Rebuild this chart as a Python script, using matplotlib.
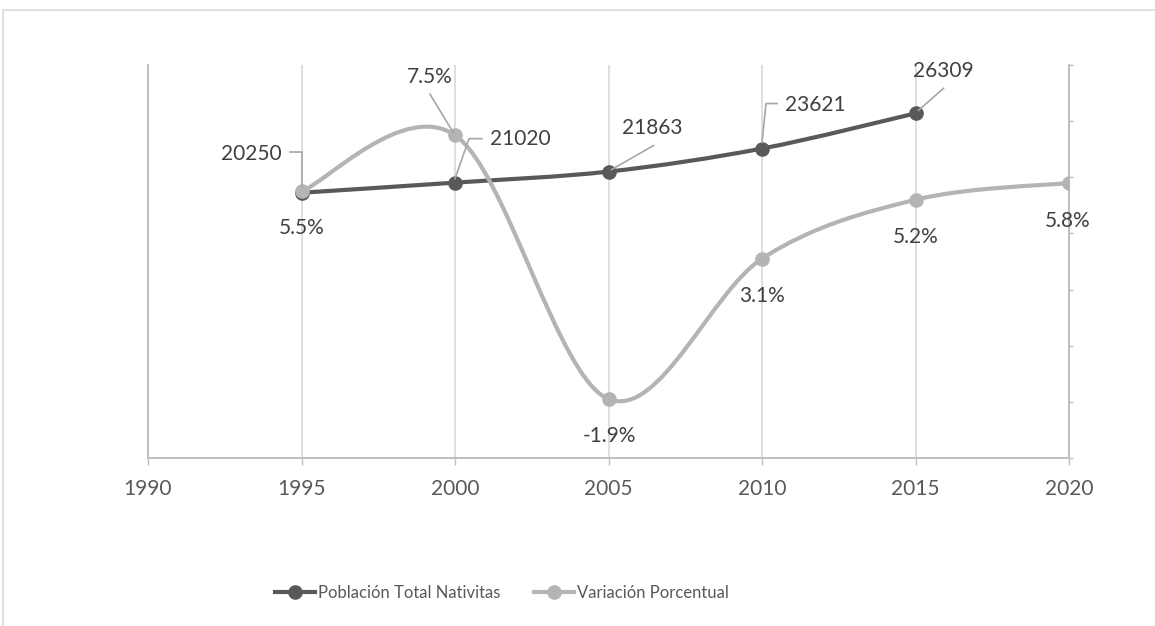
import numpy as np
import matplotlib
matplotlib.use("Agg")
import matplotlib.pyplot as plt
from matplotlib.path import Path
from matplotlib.patches import PathPatch, Rectangle
from matplotlib.lines import Line2D
from matplotlib.transforms import IdentityTransform

# datos
years_pop = [1995, 2000, 2005, 2010, 2015]
poblacion = [20250, 21020, 21863, 23621, 26309]
years_var = [1995, 2000, 2005, 2010, 2015, 2020]
variacion = [5.5, 7.5, -1.9, 3.1, 5.2, 5.8]
var_labels = ["5.5%", "7.5%", "-1.9%", "3.1%", "5.2%", "5.8%"]
x_ticks = [1990, 1995, 2000, 2005, 2010, 2015, 2020]
series_names = ["Población Total Nativitas", "Variación Porcentual"]

DARK = "#595959"
LIGHT = "#B4B4B4"
AXIS = "#BFBFBF"
GRID = "#D9D9D9"
TXT = "#404040"

plt.rcParams["font.family"] = ["Lato", "DejaVu Sans"]
FS = 15


def smooth_path(xs, ys):
    # curva suavizada tipo Excel (Catmull-Rom -> Bezier)
    pts = np.column_stack([xs, ys]).astype(float)
    n = len(pts)
    verts = [pts[0]]
    codes = [Path.MOVETO]
    for i in range(n - 1):
        p0 = pts[max(i - 1, 0)]
        p1 = pts[i]
        p2 = pts[i + 1]
        p3 = pts[min(i + 2, n - 1)]
        c1 = p1 + (p2 - p0) / 6.0
        c2 = p2 - (p3 - p1) / 6.0
        verts += [c1, c2, p2]
        codes += [Path.CURVE4] * 3
    return Path(verts, codes)


fig = plt.figure(figsize=(11.55, 6.26), dpi=100)
ax = fig.add_axes([148 / 1155, 1 - 458 / 626, (1069 - 148) / 1155, (458 - 65) / 626])
ax2 = ax.twinx()

ax.set_xlim(1990, 2020)
ax.set_ylim(0, 30000)
ax2.set_ylim(-4, 10)

ax.set_xticks(x_ticks)
ax.set_xticklabels([str(t) for t in x_ticks], fontsize=FS, color=DARK)
ax.tick_params(axis="x", length=5, width=1, color=AXIS, pad=10)
ax.set_yticks([])
ax.grid(axis="x", color=GRID, lw=1.2)
ax.set_axisbelow(True)

ax2.set_yticks(np.arange(-4, 11, 2))
ax2.set_yticklabels([])
ax2.tick_params(axis="y", length=3, width=1, color=AXIS)

for a in (ax, ax2):
    a.spines["top"].set_visible(False)
    for s in ("left", "right", "bottom"):
        a.spines[s].set_color(AXIS)
        a.spines[s].set_linewidth(1.2)

# series
ax.add_patch(PathPatch(smooth_path(years_pop, poblacion), fill=False,
                       edgecolor=DARK, lw=3, capstyle="round", zorder=3))
ax.plot(years_pop, poblacion, "o", color=DARK, ms=9.5, zorder=4)
ax2.add_patch(PathPatch(smooth_path(years_var, variacion), fill=False,
                        edgecolor=LIGHT, lw=3, capstyle="round", zorder=3))
ax2.plot(years_var, variacion, "o", color=LIGHT, ms=9.5, zorder=4)

# posiciones de etiquetas (pixeles, y hacia abajo)
pop_text_off = [(-50, -39), (65, -44), (44, -44), (53, -44), (28, -42)]
pop_leaders = [
    [(-12, -41), (0, -41), (0, -6)],
    [(27, -44), (14, -44), (0, -4)],
    [(45, -26), (3, -2)],
    [(15, -45), (4, -45), (0, -6)],
    [(28, -25), (3, -3)],
]
var_text_off = [(0, 37), (-25, -58), (1, 37), (0, 37), (0, 37), (-1, 38)]
var_leaders = [None, [(-25, -41), (-2, -3)], None, None, None, None]


def draw_labels(a, xs, ys, labels, offs, leaders):
    for x, y, lab, off, ld in zip(xs, ys, labels, offs, leaders):
        a.annotate(lab, xy=(x, y), xytext=(off[0], -off[1]),
                   textcoords="offset pixels", ha="center", va="center",
                   fontsize=FS, color=TXT, zorder=6)
        if ld:
            px, py = a.transData.transform((x, y))
            lx = [px + d[0] for d in ld]
            ly = [py - d[1] for d in ld]
            fig.add_artist(Line2D(lx, ly, transform=IdentityTransform(),
                                  color="#A6A6A6", lw=1.2, zorder=5))


draw_labels(ax, years_pop, poblacion, [str(v) for v in poblacion],
            pop_text_off, pop_leaders)
draw_labels(ax2, years_var, variacion, var_labels, var_text_off, var_leaders)

# leyenda
handles = [
    Line2D([], [], color=DARK, lw=3, marker="o", ms=9.5),
    Line2D([], [], color=LIGHT, lw=3, marker="o", ms=9.5),
]
fig.legend(handles, series_names, loc="center", bbox_to_anchor=(502 / 1155, 1 - 593 / 626),
           ncol=2, frameon=False, fontsize=12, handlelength=2.4, handletextpad=0.18,
           columnspacing=2.0, labelcolor=DARK)

# marco del grafico
fig.add_artist(Rectangle((2.5 / 1155, -0.5), 2, 1.5 - 9.5 / 626, transform=fig.transFigure,
                         fill=False, edgecolor=GRID, lw=1.2))

fig.savefig("out.png", dpi=100)
